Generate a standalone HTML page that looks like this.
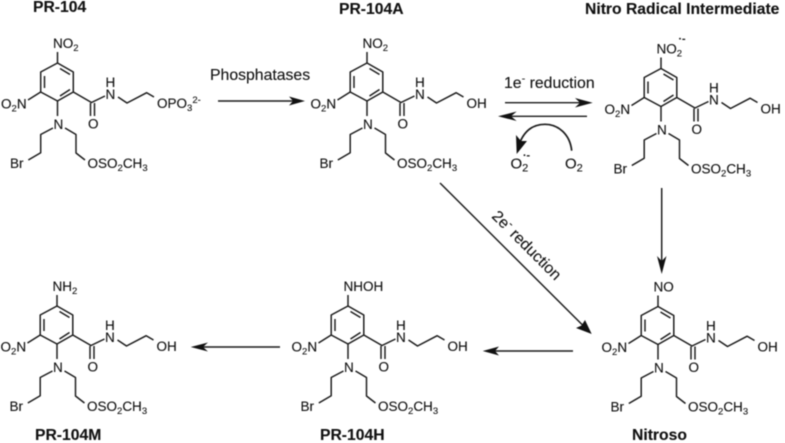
<!DOCTYPE html>
<html><head><meta charset="utf-8"><style>
html,body{margin:0;padding:0;background:#fff}
svg{display:block;filter:blur(.4px)}
text{font-family:"Liberation Sans",sans-serif;font-size:13.5px;fill:#111;stroke:#111;stroke-width:.12px}
.b{font-weight:bold;font-size:15.7px}
.l{font-size:15.8px}
.s{font-size:9.5px}
.ls{font-size:11px}
.r{font-size:10.500px;font-weight:bold}
</style></head><body>
<svg width="785" height="443" viewBox="0 0 785 443" xmlns="http://www.w3.org/2000/svg">
<defs>
<g id="m" fill="none" stroke="#1a1a1a" stroke-width="1.45" stroke-linejoin="round">
<path d="M57.5 63L73.3 72V92L57.5 101L40.7 92V72Z"/>
<path d="M44.5 76V88M60 68.5L70 74.5M60 96L70 89.5"/>
<path d="M40.7 92L28 100M73.3 92L91.5 102.5L105 96M118 97L127 103L146.7 92.7L154 97"/>
<path d="M90.5 103V116M94.5 103V116"/>
<path d="M57.5 101V116M53 128L40.7 134.5V152.7L28.3 160M65 128L76 134.5V153L85 160"/>
<path d="M57.5 63V52"/>
</g>
</defs>

<!-- PR-104 -->
<text class="b" x="33" y="12">PR-104</text>
<use href="#m"/>
<text x="53" y="48">NO<tspan class="s" dy="3">2</tspan></text>
<text x="1" y="108.500">O<tspan class="s" dy="3">2</tspan><tspan dy="-3">N</tspan></text>
<text x="105.500" y="87">H</text><text x="105.500" y="99">N</text>
<text x="88" y="128.500">O</text>
<text x="53.500" y="129">N</text>
<text x="10" y="168">Br</text>
<text x="87.500" y="168">OSO<tspan class="s" dy="3">2</tspan><tspan dy="-3">CH</tspan><tspan class="s" dy="3">3</tspan></text>
<text x="157" y="108">OPO<tspan class="s" dy="3">3</tspan><tspan class="s" dy="-8">2-</tspan></text>

<!-- PR-104A -->
<text class="b" x="339" y="14">PR-104A</text>
<use href="#m" x="309.500"/>
<g transform="translate(309.500,0)">
<text x="53" y="48">NO<tspan class="s" dy="3">2</tspan></text>
<text x="1" y="108.500">O<tspan class="s" dy="3">2</tspan><tspan dy="-3">N</tspan></text>
<text x="105.500" y="87">H</text><text x="105.500" y="99">N</text>
<text x="88" y="128.500">O</text>
<text x="53.500" y="129">N</text>
<text x="10" y="168">Br</text>
<text x="87.500" y="168">OSO<tspan class="s" dy="3">2</tspan><tspan dy="-3">CH</tspan><tspan class="s" dy="3">3</tspan></text>
<text x="157" y="108">OH</text>
</g>

<!-- Nitro radical -->
<text class="b" x="585" y="14">Nitro Radical Intermediate</text>
<use href="#m" x="603.500" y="5.500"/>
<g transform="translate(603.500,5.500)">
<text x="53" y="48">NO<tspan class="s" dy="3">2</tspan></text>
<text class="r" x="75" y="36.500">·-</text>
<text x="1" y="108.500">O<tspan class="s" dy="3">2</tspan><tspan dy="-3">N</tspan></text>
<text x="105.500" y="87">H</text><text x="105.500" y="99">N</text>
<text x="88" y="128.500">O</text>
<text x="53.500" y="129">N</text>
<text x="10" y="168">Br</text>
<text x="87.500" y="168">OSO<tspan class="s" dy="3">2</tspan><tspan dy="-3">CH</tspan><tspan class="s" dy="3">3</tspan></text>
<text x="157" y="108">OH</text>
</g>

<!-- PR-104M -->
<text class="b" x="35" y="440">PR-104M</text>
<use href="#m" x="-0.500" y="243"/>
<g transform="translate(-0.500,243)">
<text x="53" y="48">NH<tspan class="s" dy="3">2</tspan></text>
<text x="1" y="108.500">O<tspan class="s" dy="3">2</tspan><tspan dy="-3">N</tspan></text>
<text x="105.500" y="87">H</text><text x="105.500" y="99">N</text>
<text x="88" y="128.500">O</text>
<text x="53.500" y="129">N</text>
<text x="10" y="168">Br</text>
<text x="87.500" y="168">OSO<tspan class="s" dy="3">2</tspan><tspan dy="-3">CH</tspan><tspan class="s" dy="3">3</tspan></text>
<text x="157" y="108">OH</text>
</g>

<!-- PR-104H -->
<text class="b" x="320" y="440">PR-104H</text>
<use href="#m" x="290.500" y="243"/>
<g transform="translate(290.500,243)">
<text x="53" y="48">NHOH</text>
<text x="1" y="108.500">O<tspan class="s" dy="3">2</tspan><tspan dy="-3">N</tspan></text>
<text x="105.500" y="87">H</text><text x="105.500" y="99">N</text>
<text x="88" y="128.500">O</text>
<text x="53.500" y="129">N</text>
<text x="10" y="168">Br</text>
<text x="87.500" y="168">OSO<tspan class="s" dy="3">2</tspan><tspan dy="-3">CH</tspan><tspan class="s" dy="3">3</tspan></text>
<text x="157" y="108">OH</text>
</g>

<!-- Nitroso -->
<text class="b" x="632" y="440">Nitroso</text>
<use href="#m" x="600.500" y="243.500"/>
<g transform="translate(600.500,243.500)">
<text x="53" y="48">NO</text>
<text x="1" y="108.500">O<tspan class="s" dy="3">2</tspan><tspan dy="-3">N</tspan></text>
<text x="105.500" y="87">H</text><text x="105.500" y="99">N</text>
<text x="88" y="128.500">O</text>
<text x="53.500" y="129">N</text>
<text x="10" y="168">Br</text>
<text x="87.500" y="168">OSO<tspan class="s" dy="3">2</tspan><tspan dy="-3">CH</tspan><tspan class="s" dy="3">3</tspan></text>
<text x="157" y="108">OH</text>
</g>

<!-- Arrows -->
<g fill="none" stroke="#1a1a1a" stroke-width="1.45">
<path d="M218 101H295"/>
<path d="M505 102.700H582"/>
<path d="M587 116.300H508"/>
<path d="M661.700 188V262"/>
<path d="M440 183L583 325.500"/>
<path d="M573 351H492"/>
<path d="M280 347H200"/>
<path d="M571.700 150.700C570 134 558 124.300 545 124.300C533 124.300 525 131 520.500 141" stroke-width="1.7"/>
</g>
<g fill="#111" stroke="none">
<path d="M305 101L289 96.500L293 101L289 105.500Z"/>
<path d="M592.700 102.700L575 98L580 102.700L575 107.500Z"/>
<path d="M498 116.300L516.700 111.500L511 116.300L516.700 121Z"/>
<path d="M661.700 274L657 256L661.700 261L666.500 256Z"/>
<path d="M591.700 334L585 320L581.500 325.500L576 328Z"/>
<path d="M482.700 351L499 346.500L495 351L499 355.500Z"/>
<path d="M190.700 347L208 342.500L203 347L208 351.500Z"/>
<path d="M516.700 154L516 135L521 141L527 141Z"/>
</g>

<text class="l" x="210" y="80">Phosphatases</text>
<text class="l" x="504" y="88">1e<tspan class="ls" dy="-6">-</tspan><tspan dy="6"> reduction</tspan></text>
<text class="l" x="510.500" y="168.500" style="font-size:15px">O<tspan class="ls" dy="3">2</tspan></text>
<text class="r" x="523" y="158.500">·-</text>
<text class="l" x="565" y="168.500" style="font-size:15px">O<tspan class="ls" dy="3">2</tspan></text>
<text class="l" transform="translate(491,217) rotate(45)">2e<tspan class="ls" dy="-6">-</tspan><tspan dy="6"> reduction</tspan></text>
</svg>
</body></html>
